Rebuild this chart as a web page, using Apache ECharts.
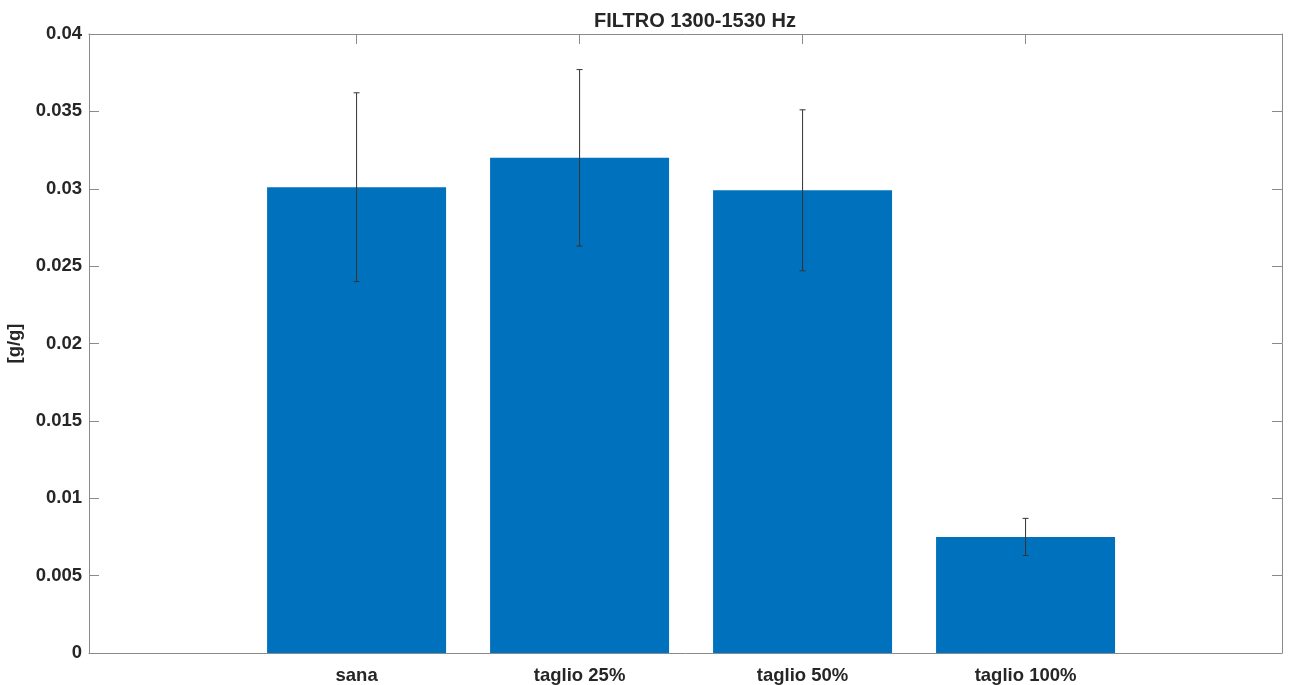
<!DOCTYPE html>
<html>
<head>
<meta charset="utf-8">
<script src="https://cdn.jsdelivr.net/npm/echarts@6/dist/echarts.min.js"></script>
<style>
html, body { margin: 0; padding: 0; background: #fff; }
#main { width: 1296px; height: 685px; }
</style>
</head>
<body>
<div id="main"></div>
<script>
var categories = ['sana', 'taglio 25%', 'taglio 50%', 'taglio 100%'];
var positions = [1, 2, 3, 4];
var means = [0.0301, 0.0320, 0.0299, 0.0075];
var errors = [0.0061, 0.0057, 0.0052, 0.0012];

var axisColor = '#8a8a8a';
var textColor = '#262626';
var font = 'Liberation Sans';

var barData = means.map(function (v, i) { return [positions[i], v]; });
var errData = means.map(function (v, i) { return [positions[i], v - errors[i], v + errors[i]]; });

var myChart = echarts.init(document.getElementById('main'));
var option = {
    animation: false,
    title: {
        text: 'FILTRO 1300-1530 Hz',
        left: 690,
        top: 6,
        textAlign: 'center',
        textStyle: { fontFamily: font, fontSize: 20, fontWeight: 'bold', color: textColor }
    },
    grid: { left: 89, right: 14, top: 34, bottom: 32, outerBoundsMode: 'none' },
    xAxis: [
        {
            type: 'value',
            min: -0.2,
            max: 5.15,
            splitLine: { show: false },
            axisLine: { onZero: false, lineStyle: { color: axisColor } },
            axisTick: { inside: true, length: 10, customValues: positions, lineStyle: { color: axisColor } },
            axisLabel: {
                customValues: positions,
                formatter: function (v) { return categories[Math.round(v) - 1] || ''; },
                fontFamily: font, fontSize: 18.5, fontWeight: 'bold', color: textColor, margin: 13
            }
        },
        {
            type: 'value',
            position: 'top',
            min: -0.2,
            max: 5.15,
            splitLine: { show: false },
            axisLine: { show: true, onZero: false, lineStyle: { color: axisColor } },
            axisTick: { inside: true, length: 10, customValues: positions, lineStyle: { color: axisColor } },
            axisLabel: { show: false }
        }
    ],
    yAxis: [
        {
            type: 'value',
            min: 0,
            max: 0.04,
            interval: 0.005,
            name: '[g/g]',
            nameLocation: 'middle',
            nameGap: 62,
            nameTextStyle: { fontFamily: font, fontSize: 18.5, fontWeight: 'bold', color: textColor },
            splitLine: { show: false },
            axisLine: { show: true, onZero: false, lineStyle: { color: axisColor } },
            axisTick: { show: true, inside: true, length: 10, lineStyle: { color: axisColor } },
            axisLabel: { fontFamily: font, fontSize: 18.5, fontWeight: 'bold', color: textColor, margin: 7 }
        },
        {
            type: 'value',
            position: 'right',
            min: 0,
            max: 0.04,
            interval: 0.005,
            splitLine: { show: false },
            axisLine: { show: true, onZero: false, lineStyle: { color: axisColor } },
            axisTick: { show: true, inside: true, length: 10, lineStyle: { color: axisColor } },
            axisLabel: { show: false }
        }
    ],
    series: [
        {
            name: 'media',
            type: 'bar',
            xAxisIndex: 0,
            yAxisIndex: 0,
            barWidth: 179,
            itemStyle: { color: '#0072BD' },
            data: barData
        },
        {
            name: 'errore',
            type: 'custom',
            xAxisIndex: 0,
            yAxisIndex: 0,
            z: 10,
            renderItem: function (params, api) {
                var x = api.value(0);
                var lo = api.coord([x, api.value(1)]);
                var hi = api.coord([x, api.value(2)]);
                var cap = 3;
                var style = { stroke: '#333', lineWidth: 1 };
                return {
                    type: 'group',
                    children: [
                        { type: 'line', shape: { x1: hi[0], y1: hi[1], x2: lo[0], y2: lo[1] }, style: style },
                        { type: 'line', shape: { x1: hi[0] - cap, y1: hi[1], x2: hi[0] + cap, y2: hi[1] }, style: style },
                        { type: 'line', shape: { x1: lo[0] - cap, y1: lo[1], x2: lo[0] + cap, y2: lo[1] }, style: style }
                    ]
                };
            },
            data: errData
        }
    ]
};
myChart.setOption(option);
</script>
</body>
</html>
